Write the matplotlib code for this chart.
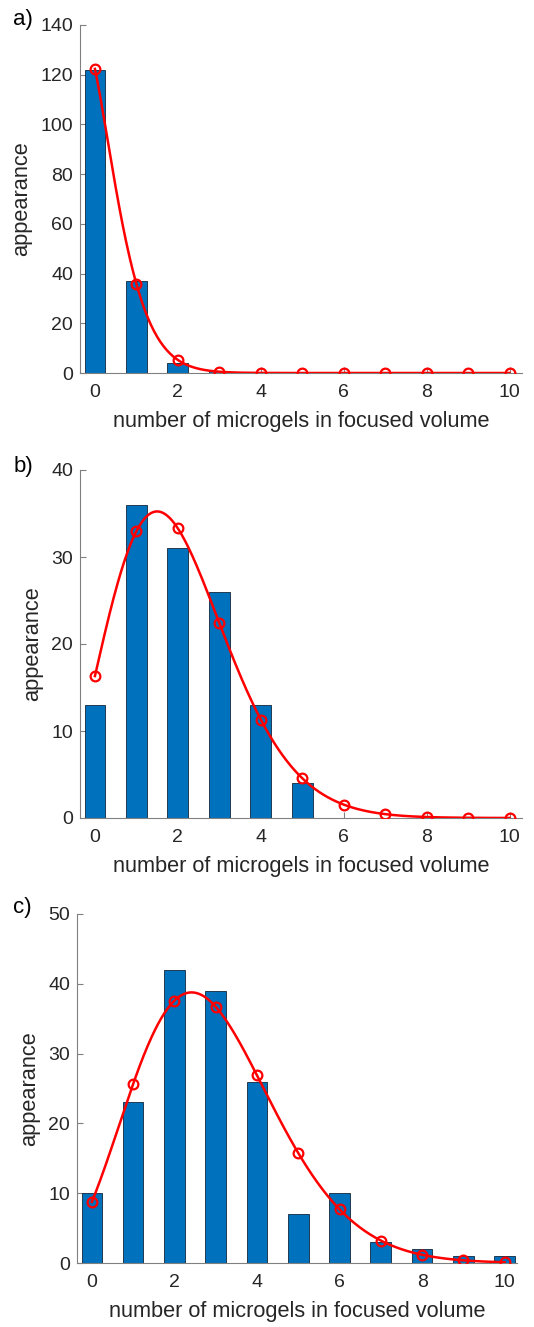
import numpy as np
import matplotlib
matplotlib.use("Agg")
import matplotlib.pyplot as plt
from math import lgamma

plt.rcParams['font.family'] = ['Liberation Sans', 'DejaVu Sans']

# histogram counts per panel (number of microgels 0..10)
n_microgels = np.arange(0, 11)
counts_a = [122, 37, 4, 1, 0, 0, 0, 0, 0, 0, 0]
counts_b = [13, 36, 31, 26, 13, 4, 0, 0, 0, 0, 0]
counts_c = [10, 23, 42, 39, 26, 7, 10, 3, 2, 1, 1]

# poisson fit parameters (total, mean)
fit_a = (164, 0.293)
fit_b = (123, 2.02)
fit_c = (164, 2.93)

ymax = [140, 40, 50]
ystep = [20, 10, 10]
labels = ['a)', 'b)', 'c)']

# axes boxes in figure fractions [left, bottom, width, height]
boxes = [
    [80 / 534, 1 - 373 / 1327, 442 / 534, 348 / 1327],
    [80 / 534, 1 - 818 / 1327, 442 / 534, 348 / 1327],
    [77 / 534, 1 - 1263 / 1327, 440 / 534, 349 / 1327],
]

def poisson(x, total, lam):
    g = np.array([lgamma(v + 1) for v in np.atleast_1d(x)])
    return total * np.exp(x * np.log(lam) - lam - g)

fig = plt.figure(figsize=(5.34, 13.27), dpi=100)
txt = '#262626'
spine = '#808080'

for i, (counts, fit) in enumerate(zip([counts_a, counts_b, counts_c], [fit_a, fit_b, fit_c])):
    ax = fig.add_axes(boxes[i])
    ax.bar(n_microgels, counts, width=0.5, color='#0072BD', edgecolor='#10263a', linewidth=0.6, zorder=2)
    xs = np.linspace(0, 10, 400)
    ax.plot(xs, poisson(xs, *fit), color='red', linewidth=1.8, zorder=3)
    ax.plot(n_microgels, poisson(n_microgels.astype(float), *fit), 'o', color='red',
            markerfacecolor='none', markersize=7, markeredgewidth=1.6, zorder=4)

    ax.set_xlim(-0.36, 10.3)
    ax.set_ylim(0, ymax[i])
    ax.set_xticks(range(0, 11, 2))
    ax.set_yticks(range(0, ymax[i] + 1, ystep[i]))
    for s in ['top', 'right']:
        ax.spines[s].set_visible(False)
    for s in ['left', 'bottom']:
        ax.spines[s].set_color(spine)
        ax.spines[s].set_linewidth(0.8)
    ax.tick_params(direction='in', length=4, width=0.8, color=spine, labelcolor=txt,
                   labelsize=14, pad=5)
    ax.tick_params(axis='x', pad=8)
    ax.set_xlabel('number of microgels in focused volume', fontsize=15.7, color=txt, labelpad=7)
    ax.set_ylabel('appearance', fontsize=15.7, color=txt, labelpad=6)

fig.text(13 / 534, 1 - 25 / 1327, 'a)', fontsize=16, color='black', va='baseline')
fig.text(14 / 534, 1 - 472 / 1327, 'b)', fontsize=16, color='black', va='baseline')
fig.text(13 / 534, 1 - 913 / 1327, 'c)', fontsize=16, color='black', va='baseline')

fig.savefig('out.png', dpi=100)
